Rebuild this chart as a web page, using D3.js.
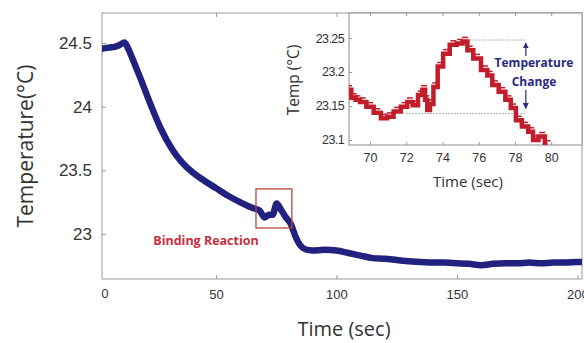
<!DOCTYPE html>
<html>
<head>
<meta charset="utf-8">
<script src="https://cdn.jsdelivr.net/npm/d3@7"></script>
<style>
  body { margin: 0; background: #fff; }
  svg { display: block; font-family: "Open Sans", sans-serif; }
</style>
</head>
<body>
<svg id="chart" width="584" height="343"></svg>
<script>
// main trace (time in sec, temperature in degC)
const mainTime = [0, 2, 4, 6, 8, 10, 12, 13.5, 15.5, 18.5, 22.6, 26.8, 32, 36, 40.5, 45, 50, 55, 60, 65, 68, 70.3, 72, 73.5, 75.2, 77, 79, 81, 83, 85, 87, 90, 95, 100, 105, 110, 115, 120, 125, 130, 135, 140, 145, 150, 155, 160, 165, 170, 175, 180, 185, 190, 195, 200, 202];
const mainTemp = [24.455, 24.455, 24.46, 24.465, 24.47, 24.485, 24.505, 24.46, 24.37, 24.23, 24.03, 23.84, 23.66, 23.56, 23.48, 23.42, 23.36, 23.3, 23.25, 23.205, 23.185, 23.13, 23.15, 23.15, 23.24, 23.19, 23.13, 23.08, 22.98, 22.91, 22.88, 22.87, 22.875, 22.87, 22.85, 22.83, 22.81, 22.805, 22.795, 22.785, 22.78, 22.775, 22.775, 22.77, 22.765, 22.755, 22.765, 22.77, 22.77, 22.775, 22.77, 22.775, 22.775, 22.78, 22.78];
const mainXTicks = [50, 100, 150, 200];
const mainYTicks = [23, 23.5, 24, 24.5];

// zoomed trace for the inset
const insetTime = [68.84, 69.1, 69.3, 69.6, 70, 70.4, 70.8, 71.1, 71.5, 71.9, 72.2, 72.5, 72.8, 72.98, 73.1, 73.22, 73.4, 73.6, 73.87, 74.2, 74.6, 74.97, 75.25, 75.5, 75.9, 76.35, 76.6, 76.9, 77.3, 77.64, 77.9, 78.2, 78.56, 78.9, 79.1, 79.5, 79.8];
const insetTemp = [23.174, 23.162, 23.159, 23.156, 23.149, 23.14, 23.132, 23.134, 23.142, 23.149, 23.156, 23.151, 23.166, 23.174, 23.159, 23.144, 23.153, 23.178, 23.208, 23.227, 23.24, 23.242, 23.245, 23.232, 23.22, 23.203, 23.195, 23.181, 23.171, 23.159, 23.147, 23.129, 23.12, 23.112, 23.1, 23.105, 23.093];
const insetXTicks = [70, 72, 74, 76, 78, 80];
const insetYTicks = [23.1, 23.15, 23.2, 23.25];

// reaction window marked on the main plot
const boxTime = [66.6, 81.5];
const boxTemp = [23.047, 23.354];
// temperature change markers in the inset
const changeLow = { t0: 72, t1: 78.6, v: 23.139 };
const changeHigh = { t0: 75, t1: 78.6, v: 23.247 };

const svg = d3.select("#chart");
const frameColor = "#9a9a9a";
const tickColor = "#333";

// ---------- main plot ----------
const x = d3.scaleLinear().domain([2.7, 201.9]).range([102, 582]);
const y = d3.scaleLinear().domain([22.646, 24.736]).range([279, 13]);

svg.append("clipPath").attr("id", "mainClip")
  .append("rect")
  .attr("x", x.range()[0]).attr("y", y.range()[1])
  .attr("width", x.range()[1] - x.range()[0])
  .attr("height", y.range()[0] - y.range()[1]);

function styleAxis(g, fontSize) {
  g.select(".domain").remove();
  g.selectAll(".tick line").attr("stroke", frameColor);
  g.selectAll(".tick text").attr("fill", tickColor).style("font-size", fontSize + "px");
}

svg.append("g")
  .attr("transform", `translate(0,${y.range()[0]})`)
  .call(d3.axisBottom(x).tickValues(mainXTicks).tickSizeInner(-4).tickPadding(11).tickFormat(d3.format("d")))
  .call(g => styleAxis(g, 13));
svg.append("g")
  .attr("transform", `translate(0,${y.range()[1]})`)
  .call(d3.axisTop(x).tickValues(mainXTicks).tickSizeInner(-4).tickFormat(""))
  .call(g => styleAxis(g, 13));
svg.append("g")
  .attr("transform", `translate(${x.range()[0]},0)`)
  .call(d3.axisLeft(y).tickValues(mainYTicks).tickSizeInner(-4).tickPadding(10).tickFormat(d => d))
  .call(g => styleAxis(g, 17));

// the "0" label sits at the left edge of the frame
svg.append("text")
  .attr("x", x.range()[0] + 3).attr("y", 298)
  .attr("text-anchor", "middle").attr("fill", tickColor)
  .style("font-size", "13px").text("0");

svg.append("rect")
  .attr("x", x.range()[0]).attr("y", y.range()[1])
  .attr("width", x.range()[1] - x.range()[0])
  .attr("height", y.range()[0] - y.range()[1])
  .attr("fill", "none").attr("stroke", frameColor).attr("stroke-width", 1);

const mainLine = d3.line()
  .x((d, i) => x(mainTime[i]))
  .y(d => y(d))
  .curve(d3.curveMonotoneX);

svg.append("path")
  .attr("clip-path", "url(#mainClip)")
  .attr("d", mainLine(mainTemp))
  .attr("fill", "none")
  .attr("stroke", "#21217f")
  .attr("stroke-width", 6.5)
  .attr("stroke-linejoin", "round")
  .attr("stroke-linecap", "round");

svg.append("rect")
  .attr("x", x(boxTime[0])).attr("y", y(boxTemp[1]))
  .attr("width", x(boxTime[1]) - x(boxTime[0]))
  .attr("height", y(boxTemp[0]) - y(boxTemp[1]))
  .attr("fill", "none").attr("stroke", "#b8463e").attr("stroke-width", 1.3);

svg.append("text")
  .attr("x", 206).attr("y", 245)
  .attr("text-anchor", "middle")
  .attr("fill", "#c9303d")
  .style("font-size", "12.5px").style("font-weight", "bold")
  .text("Binding Reaction");

svg.append("text")
  .attr("transform", "translate(33,146) rotate(-90)")
  .attr("text-anchor", "middle").attr("fill", "#333")
  .style("font-size", "21px")
  .text("Temperature(°C)");

svg.append("text")
  .attr("x", 344).attr("y", 336)
  .attr("text-anchor", "middle").attr("fill", "#333")
  .style("font-size", "20px")
  .text("Time (sec)");

// ---------- inset ----------
const ix = d3.scaleLinear().domain([68.84, 81.7]).range([349, 582]);
const iy = d3.scaleLinear().domain([23.0926, 23.2868]).range([145, 13]);

svg.append("rect")
  .attr("x", ix.range()[0]).attr("y", iy.range()[1])
  .attr("width", ix.range()[1] - ix.range()[0])
  .attr("height", iy.range()[0] - iy.range()[1])
  .attr("fill", "#fff");

svg.append("clipPath").attr("id", "insetClip")
  .append("rect")
  .attr("x", ix.range()[0]).attr("y", iy.range()[1])
  .attr("width", ix.range()[1] - ix.range()[0])
  .attr("height", iy.range()[0] - iy.range()[1]);

svg.append("g")
  .attr("transform", `translate(0,${iy.range()[0]})`)
  .call(d3.axisBottom(ix).tickValues(insetXTicks).tickSizeInner(-3).tickPadding(8).tickFormat(d3.format("d")))
  .call(g => styleAxis(g, 12.5));
svg.append("g")
  .attr("transform", `translate(0,${iy.range()[1]})`)
  .call(d3.axisTop(ix).tickValues(insetXTicks).tickSizeInner(-3).tickFormat(""))
  .call(g => styleAxis(g, 12));
svg.append("g")
  .attr("transform", `translate(${ix.range()[0]},0)`)
  .call(d3.axisLeft(iy).tickValues(insetYTicks).tickSizeInner(-3).tickPadding(5).tickFormat(d => d))
  .call(g => styleAxis(g, 12.5))
  .call(g => g.selectAll(".tick text").style("letter-spacing", "-0.6px"));

svg.append("rect")
  .attr("x", ix.range()[0]).attr("y", iy.range()[1])
  .attr("width", ix.range()[1] - ix.range()[0])
  .attr("height", iy.range()[0] - iy.range()[1])
  .attr("fill", "none").attr("stroke", "#8a8a8a").attr("stroke-width", 1);

// dotted guides marking low and high temperature
[changeLow, changeHigh].forEach(c => {
  svg.append("line")
    .attr("x1", ix(c.t0)).attr("x2", ix(c.t1))
    .attr("y1", iy(c.v)).attr("y2", iy(c.v))
    .attr("stroke", "#999").attr("stroke-width", 1)
    .attr("stroke-dasharray", "1.5,1.5");
});

const insetLine = d3.line()
  .x((d, i) => ix(insetTime[i]))
  .y(d => iy(d))
  .curve(d3.curveStep);

svg.append("path")
  .attr("clip-path", "url(#insetClip)")
  .attr("d", insetLine(insetTemp))
  .attr("fill", "none")
  .attr("stroke", "#c21d2b")
  .attr("stroke-width", 4.5)
  .attr("stroke-linejoin", "miter");

// little error-bar like serifs on the red trace
svg.append("g")
  .attr("clip-path", "url(#insetClip)")
  .selectAll("line")
  .data(insetTemp)
  .join("line")
  .attr("x1", (d, i) => ix(insetTime[i]) - 3)
  .attr("x2", (d, i) => ix(insetTime[i]) + 3)
  .attr("y1", d => iy(d) - 4)
  .attr("y2", d => iy(d) - 4)
  .attr("stroke", "#c21d2b").attr("stroke-width", 1.5);

// arrows
const arrowX = ix(changeHigh.t1);
const defs = svg.append("defs");
defs.append("marker")
  .attr("id", "arrowHead")
  .attr("viewBox", "0 0 10 10")
  .attr("refX", 9).attr("refY", 5)
  .attr("markerWidth", 5).attr("markerHeight", 5)
  .attr("orient", "auto")
  .append("path").attr("d", "M0,0 L10,5 L0,10 z").attr("fill", "#2a2a80");

svg.append("line")
  .attr("x1", arrowX).attr("x2", arrowX)
  .attr("y1", 56).attr("y2", iy(changeHigh.v) + 3)
  .attr("stroke", "#2a2a80").attr("stroke-width", 1.2)
  .attr("marker-end", "url(#arrowHead)");
svg.append("line")
  .attr("x1", arrowX).attr("x2", arrowX)
  .attr("y1", 90).attr("y2", iy(changeLow.v) - 5)
  .attr("stroke", "#2a2a80").attr("stroke-width", 1.2)
  .attr("marker-end", "url(#arrowHead)");

svg.append("text")
  .attr("x", 534).attr("y", 67)
  .attr("text-anchor", "middle").attr("fill", "#2a2a80")
  .style("font-size", "12px").style("font-weight", "bold")
  .text("Temperature");
svg.append("text")
  .attr("x", 534).attr("y", 86)
  .attr("text-anchor", "middle").attr("fill", "#2a2a80")
  .style("font-size", "12px").style("font-weight", "bold")
  .text("Change");

svg.append("text")
  .attr("transform", "translate(299,80) rotate(-90)")
  .attr("text-anchor", "middle").attr("fill", "#333")
  .style("font-size", "15.5px")
  .text("Temp (°C)");

svg.append("text")
  .attr("x", 468).attr("y", 187)
  .attr("text-anchor", "middle").attr("fill", "#333")
  .style("font-size", "15px")
  .text("Time (sec)");
</script>
</body>
</html>
